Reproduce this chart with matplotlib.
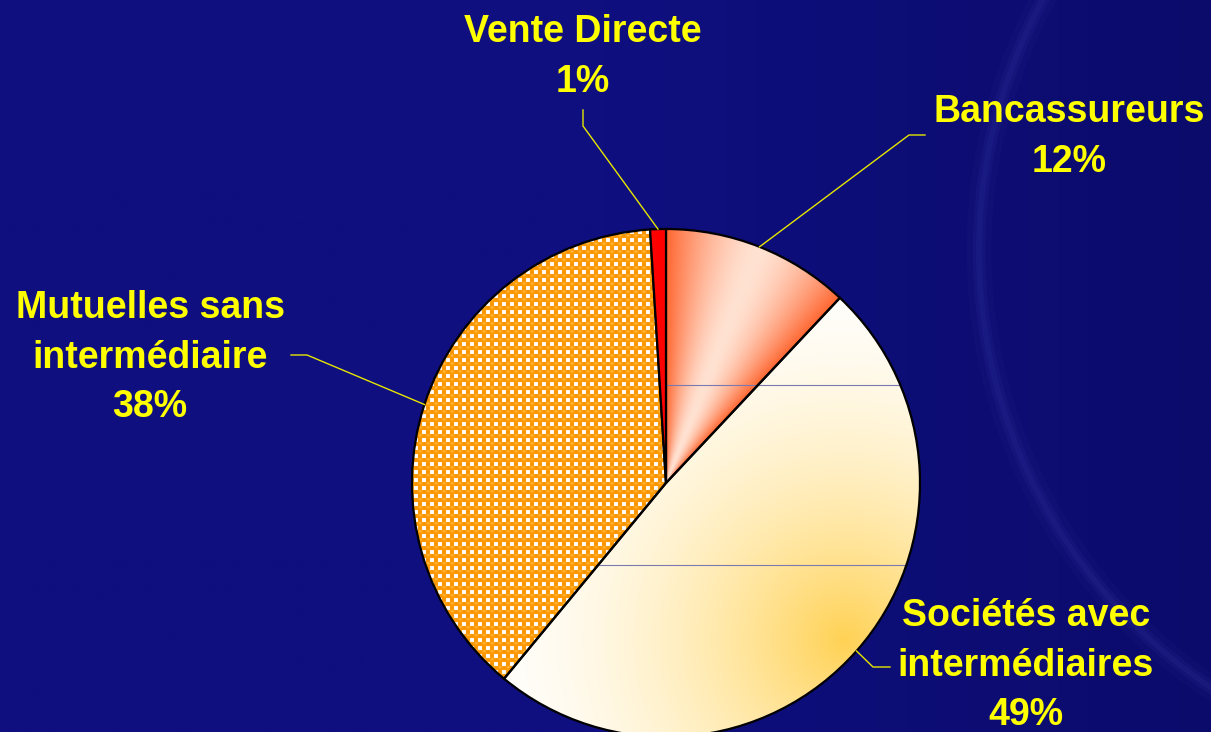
import matplotlib
matplotlib.use("Agg")
import matplotlib.pyplot as plt
import numpy as np
from matplotlib.patches import Circle

W, H = 1211, 732

# data
labels = ["Bancassureurs", "Sociétés avec\nintermédiaires",
          "Mutuelles sans\nintermédiaire", "Vente Directe"]
shares = [12, 49, 38, 1]
pct_labels = ["12%", "49%", "38%", "1%"]

# layout (pixel coords, y from top)
cx, cy_px, R = 666, 483, 254
cy = H - cy_px
text_x = [1069, 1026, 150, 583]
text_base = [122, 626, 318, 42]
line_step = 49.5
elbows = [((925, 135), (909, 135)), ((890, 667), (873, 667)),
          ((291, 355), (307, 355)), ((583, 110), (583, 126))]

YELLOW = "#FFFF00"
FONT = ["Liberation Sans", "DejaVu Sans"]

fig = plt.figure(figsize=(W / 100, H / 100), dpi=100)
ax = fig.add_axes([0, 0, 1, 1])

# background: navy with a faint ring on the right
bx = np.linspace(0, 1, 400)
left = np.array([15, 15, 128]) / 255
right = np.array([11, 11, 108]) / 255
t = np.clip((bx - 0.5) / 0.5, 0, 1)
bg = left[None, None, :] * (1 - t[None, :, None]) + right[None, None, :] * t[None, :, None]
bg = np.repeat(bg, 2, axis=0)
ax.imshow(bg, extent=(0, W, 0, H), aspect="auto", zorder=0, interpolation="bilinear")
for lw, a in [(18, 0.04), (9, 0.07), (4, 0.08)]:
    ax.add_patch(Circle((1506, H - 251), 527, fill=False, edgecolor="#6060D0",
                        linewidth=lw, alpha=a, zorder=0.5))

wedges, _ = ax.pie(shares, startangle=90, counterclock=False, center=(cx, cy),
                   radius=R, frame=True,
                   wedgeprops=dict(edgecolor="black", linewidth=1.6))
for w in wedges:
    w.set_zorder(3)
    w.set_facecolor("none")
wedges[3].set_facecolor("#FF0000")

# sample grid over the pie
ss = 2
xs = np.linspace(cx - R, cx + R, 2 * R * ss)
ys = np.linspace(cy - R, cy + R, 2 * R * ss)
X, Y = np.meshgrid(xs, ys)
ext = (cx - R, cx + R, cy - R, cy + R)
ang = np.degrees(np.arctan2(Y - cy, X - cx))


def hexrgb(h):
    h = h.lstrip("#")
    return np.array([int(h[i:i + 2], 16) for i in (0, 2, 4)]) / 255


def blend(c0, c1, f):
    return c0[None, None, :] * (1 - f[..., None]) + c1[None, None, :] * f[..., None]


# Bancassureurs: angular gradient, light in the middle, orange on the edges
w0 = wedges[0]
mid = (w0.theta1 + w0.theta2) / 2
half = (w0.theta2 - w0.theta1) / 2
f = np.clip(np.abs(((ang - mid + 180) % 360) - 180) / half, 0, 1) ** 1.6
img0 = blend(hexrgb("#FFE2D2"), hexrgb("#FF6630"), f)
im = ax.imshow(img0, extent=ext, origin="lower", zorder=2)
im.set_clip_path(w0)

# Sociétés: white to warm yellow toward lower right
d = np.hypot(X - 845, Y - (H - 640))
f = np.clip(1 - d / 390, 0, 1) ** 1.8
img1 = blend(hexrgb("#FFFFFF"), hexrgb("#FFD255"), f)
im = ax.imshow(img1, extent=ext, origin="lower", zorder=2)
im.set_clip_path(wedges[1])

# Mutuelles: orange balls with white squares between them
p = 8.0
py = H - Y
u = (X % p) / p - 0.5
v = (py % p) / p - 0.5
rr = np.hypot(u, v)
img2 = np.ones(X.shape + (3,)) * hexrgb("#FF9A00")
img2[rr > 0.40] = hexrgb("#F59200")
corner = (np.abs(u) > 0.25) & (np.abs(v) > 0.25)
img2[corner] = hexrgb("#FFFFFF")
hl = np.hypot(u / 1.6, v + 0.08) < 0.11
img2[hl] = hexrgb("#FFBE55")
im = ax.imshow(img2, extent=ext, origin="lower", zorder=2, interpolation="antialiased")
im.set_clip_path(wedges[2])

# faint banding lines across the right half
ln, = ax.plot([cx, cx + R], [H - 385, H - 385], color="#7A7AB0", lw=0.8, zorder=2.5)
ln.set_clip_path(Circle((cx, cy), R, transform=ax.transData))
ln, = ax.plot([cx - R, cx + R], [H - 565, H - 565], color="#7A7AB0", lw=0.8, zorder=2.5)
ln.set_clip_path(wedges[1])

# labels and leader lines
for i, w in enumerate(wedges):
    m = np.radians((w.theta1 + w.theta2) / 2)
    ex, ey = cx + R * np.cos(m), cy + R * np.sin(m)
    (ax0, ay0), (ax1, ay1) = elbows[i]
    ax.plot([ax0, ax1, ex], [H - ay0, H - ay1, ey], color="#E6E600", lw=1, zorder=4)
    lines = labels[i].split("\n") + [pct_labels[i]]
    for k, s in enumerate(lines):
        ax.text(text_x[i], H - (text_base[i] + k * line_step), s, ha="center",
                va="baseline", fontsize=27, fontweight="bold", color=YELLOW,
                family=FONT, zorder=5)

ax.set_xlim(0, W)
ax.set_ylim(0, H)
ax.set_aspect("auto")
ax.axis("off")
fig.savefig("out.png", dpi=100)
